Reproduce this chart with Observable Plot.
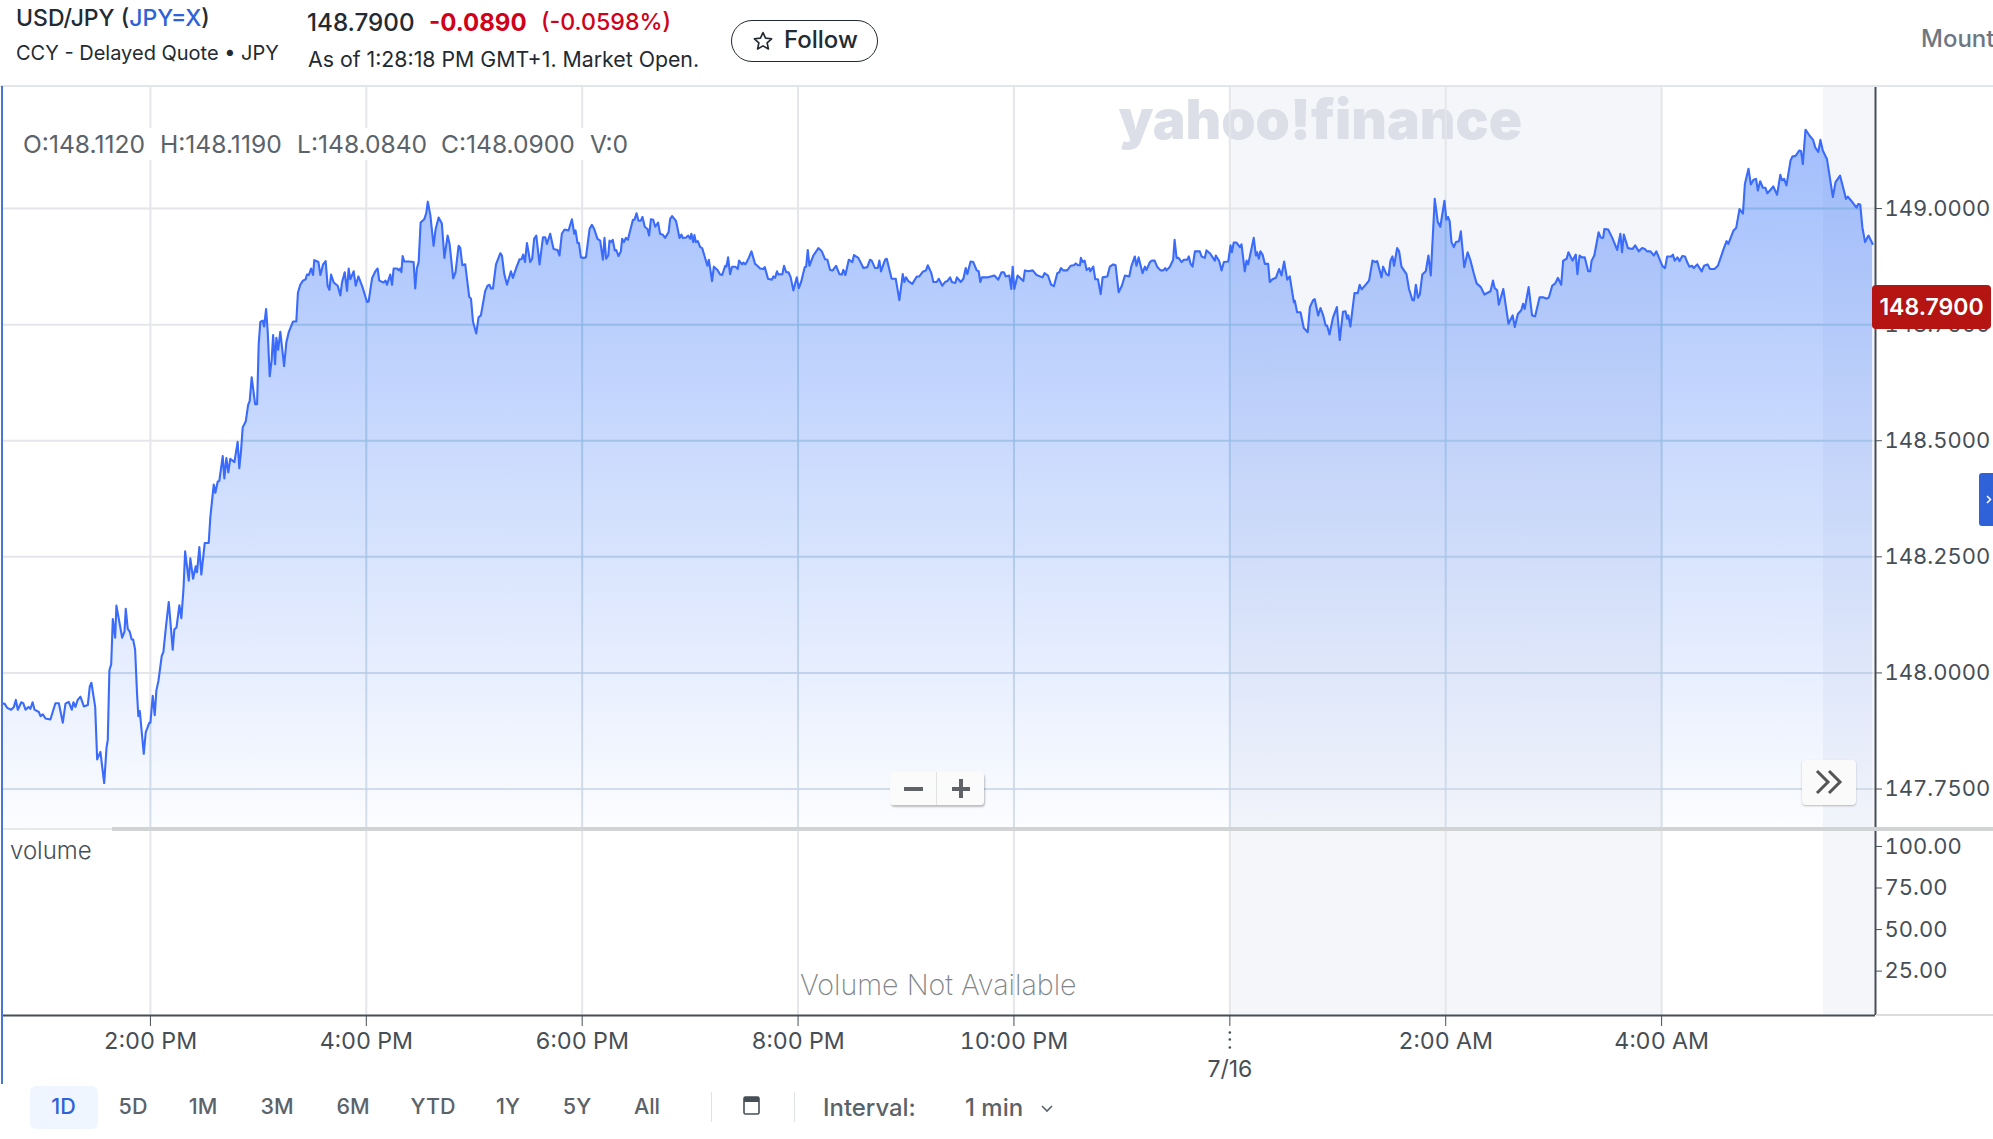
<!DOCTYPE html>
<html lang="en">
<head>
<meta charset="utf-8">
<title>USD/JPY</title>
<script src="https://cdn.jsdelivr.net/npm/d3@7"></script>
<script src="https://cdn.jsdelivr.net/npm/@observablehq/plot@0.6"></script>
<style>
html,body{margin:0;padding:0;background:#fff}
#page{position:relative;width:1993px;height:1139px;overflow:hidden;font-family:Inter,sans-serif;color:#232a31;background:#fff}
#page>*{position:absolute}
.range{position:absolute;top:1096px;font-size:21.5px;font-weight:500;color:#5b636a;transform:translateX(-50%);white-space:nowrap;line-height:1}
</style>
</head>
<body>
<div id="page"></div>
<script>
// Minutes after 12:00 PM on 7/15
const minutes = [37.6,38.9,40.4,42.6,44.1,45.2,46.3,48.2,49.3,50.6,52.2,53.3,54.5,55.6,58.0,58.9,60.2,61.7,64.4,67.2,69.1,71.3,72.8,74.6,76.3,77.2,78.3,79.6,81.1,83.0,85.2,86.3,87.2,89.3,90.4,92.2,94.3,95.6,96.3,97.2,98.2,99.1,100.4,101.1,104.3,105.6,106.3,107.4,108.5,109.6,110.4,111.5,112.6,113.3,114.1,116.3,117.4,119.4,120.0,121.3,122.4,123.3,124.5,126.3,127.2,128.7,130.2,132.4,133.3,134.5,136.1,137.2,138.4,139.3,141.3,142.2,143.7,145.2,145.9,147.2,148.3,150.2,152.4,153.3,155.2,156.1,157.4,158.3,160.2,161.1,162.2,163.3,164.4,166.7,168.5,169.4,170.4,171.3,173.0,174.3,175.2,176.3,178.2,179.3,180.2,181.1,182.4,183.2,184.3,185.2,186.3,187.4,188.2,189.3,190.0,191.0,192.2,194.3,195.6,196.9,199.3,201.1,202.0,203.3,204.8,206.3,207.0,208.1,209.3,210.4,211.1,213.4,214.5,216.0,217.4,218.5,219.5,220.4,221.9,224.1,225.6,226.5,228.0,229.3,230.2,231.1,233.0,234.1,235.6,237.8,240.4,241.3,243.2,245.0,246.3,247.2,249.6,250.7,251.5,253.3,254.3,255.2,257.1,258.0,258.9,259.5,260.2,261.1,263.5,266.3,267.2,268.1,269.1,270.2,272.2,273.3,274.2,275.6,277.4,278.5,280.2,282.0,283.4,285.2,286.3,288.3,289.6,291.3,292.2,293.4,295.0,297.2,298.2,299.3,301.1,302.4,303.7,306.1,307.4,308.5,309.3,310.4,312.1,314.5,
315.4,316.7,318.2,320.4,321.5,323.3,325.2,326.3,327.2,328.2,329.3,331.1,332.2,333.3,334.5,336.3,338.2,339.5,340.4,342.2,344.1,346.3,347.4,348.7,350.2,352.4,354.3,355.6,356.3,357.4,358.2,359.3,360.8,362.1,364.1,365.4,366.7,368.5,370.0,371.5,372.4,373.3,374.5,375.2,376.1,377.0,378.1,378.9,380.2,381.5,382.2,383.2,384.3,385.4,388.2,389.1,390.2,391.3,392.6,393.5,394.8,396.3,397.2,398.2,399.5,400.6,402.2,403.3,404.8,406.1,408.0,408.9,410.0,412.2,414.1,415.2,415.9,417.8,418.9,420.0,420.7,421.7,422.4,423.2,424.3,425.6,426.7,429.6,430.4,432.2,433.2,435.2,436.7,437.8,439.5,440.2,441.1,442.2,443.3,445.2,446.5,447.2,448.9,449.6,450.6,451.5,452.6,454.1,456.1,457.4,458.9,460.7,461.5,463.3,465.4,466.3,467.2,468.3,469.1,471.3,472.2,473.4,474.7,475.9,477.4,479.3,480.4,481.7,483.7,484.5,485.4,486.3,488.5,491.3,493.2,495.0,496.3,497.8,499.3,501.1,503.0,504.3,505.2,506.3,508.2,510.2,511.1,513.5,516.3,518.5,520.0,520.9,522.8,524.3,525.2,526.1,528.4,529.3,532.0,534.3,536.3,538.2,539.1,540.0,541.3,543.5,546.0,547.4,549.3,551.1,552.1,554.1,555.2,557.1,558.2,560.2,561.7,563.0,564.5,
565.5,567.4,568.3,570.4,571.9,573.2,574.1,575.9,577.4,579.3,580.4,581.3,582.2,585.7,589.1,591.3,593.1,594.4,595.5,597.4,598.5,599.3,600.2,602.0,605.2,606.1,608.0,610.4,612.6,615.9,617.0,618.9,620.7,622.2,624.1,625.2,626.1,627.4,629.6,631.5,633.3,634.4,635.6,636.7,637.2,638.2,639.3,640.4,641.9,642.4,644.1,645.2,646.7,648.2,649.3,651.9,653.3,655.2,656.5,658.2,660.0,661.7,664.1,665.2,667.2,668.1,669.3,671.5,672.8,673.7,675.6,676.7,678.2,679.6,681.5,683.0,684.1,684.8,686.7,688.5,689.3,690.4,691.5,693.2,694.5,696.3,697.2,698.2,699.3,700.6,703.3,704.3,706.1,707.0,708.9,711.7,712.2,714.1,715.4,716.7,719.1,720.4,721.1,722.2,723.7,725.6,726.5,728.3,729.3,730.2,733.3,734.5,735.2,736.1,737.0,738.2,739.5,741.3,742.2,743.7,745.6,747.4,748.7,750.2,751.9,753.3,755.6,756.1,757.4,759.3,761.1,763.3,764.5,766.3,767.2,769.1,770.4,771.9,773.3,774.1,775.4,777.4,779.5,781.1,782.9,784.3,785.2,785.9,787.0,789.3,791.1,792.2,793.3,795.9,797.4,799.3,800.8,801.9,804.3,805.2,807.0,808.3,809.3,810.4,811.3,813.0,814.1,815.4,818.2,819.6,821.5,822.4,823.4,824.6,825.6,827.0,828.9,830.4,831.7,833.9,835.6,837.0,839.3,840.4,841.3,842.2,
843.2,844.5,845.7,847.4,848.4,850.3,852.2,853.8,855.7,857.2,859.5,861.5,864.9,866.3,867.2,868.6,869.5,872.0,874.9,877.2,878.4,880.1,882.0,883.0,883.9,886.1,888.0,889.7,892.2,894.2,896.1,897.4,899.2,900.9,902.4,904.2,905.3,907.2,908.2,910.5,912.3,913.2,914.4,915.7,917.3,919.2,920.3,921.1,922.6,925.0,926.1,927.5,928.2,930.3,932.6,935.3,937.1,938.0,939.0,941.3,943.8,945.3,947.3,949.2,950.7,951.9,953.8,955.7,957.1,958.8,960.5,961.9,963.1,965.4,966.3,967.3,968.8,970.0,971.5,973.0,974.2,975.4,976.9,977.9,979.8,982.3,983.6,985.6,986.9,989.4,991.3,994.2,996.1,997.1,1000.0,1001.5,1003.3,1005.2,1006.3,1008.3,1009.6,1011.1,1012.5,1013.5,1014.8,1016.3,1017.7,1018.8,1020.2,1022.1,1024.2,1026.0,1026.9,1028.1,1029.4,1031.7,1032.7,1034.6,1036.5,1037.5,1038.5,1040.0,1042.3,1044.2,1045.4,1047.1,1048.3,1049.6,1051.9,1055.2,1056.7,1059.2,1062.5,1063.5,1065.4,1068.3,1069.3,1070.4,1071.6,1073.1,1075.0,1077.3];
const closes = [147.936,147.936,147.927,147.923,147.929,147.944,147.923,147.939,147.937,147.923,147.929,147.925,147.939,147.923,147.918,147.909,147.913,147.904,147.902,147.937,147.937,147.895,147.936,147.940,147.923,147.939,147.929,147.944,147.951,147.930,147.933,147.973,147.981,147.929,147.816,147.832,147.765,147.841,147.858,148.008,148.021,148.118,148.078,148.147,148.078,148.091,148.140,148.097,148.091,148.074,148.074,148.052,147.955,147.909,147.920,147.828,147.874,147.895,147.895,147.953,147.911,147.964,147.986,148.039,148.047,148.104,148.155,148.052,148.096,148.100,148.148,148.120,148.184,148.264,148.201,148.249,148.205,148.232,148.219,148.273,148.214,148.282,148.282,148.337,148.408,148.390,148.414,148.416,148.469,148.421,148.465,148.434,148.463,148.456,148.500,148.443,148.482,148.531,148.544,148.579,148.588,148.639,148.581,148.581,148.711,148.758,148.761,148.748,148.786,148.737,148.641,148.676,148.730,148.667,148.724,148.698,148.737,148.663,148.715,148.736,148.759,148.759,148.821,148.838,148.847,148.850,148.860,148.859,148.873,148.859,148.891,148.887,148.859,148.882,148.889,148.836,148.827,148.860,148.843,148.836,148.815,148.843,148.865,148.825,148.873,148.850,148.867,148.836,148.856,148.834,148.801,148.802,148.852,148.867,148.873,148.847,148.843,148.847,148.838,148.860,148.838,148.873,148.873,148.869,148.873,148.865,148.900,148.888,148.888,148.887,148.830,148.873,148.887,148.972,148.979,148.992,149.017,148.988,148.922,148.957,148.983,148.970,148.896,148.944,148.926,148.852,148.865,148.922,148.918,148.880,148.882,148.812,148.808,148.759,148.733,148.768,148.772,148.825,148.836,148.838,148.830,148.830,148.882,148.906,
148.901,148.861,148.838,148.867,148.853,148.874,148.893,148.893,148.903,148.887,148.928,148.887,148.894,148.937,148.944,148.882,148.940,148.940,148.926,148.948,148.915,148.913,148.901,148.948,148.957,148.955,148.979,148.948,148.955,148.928,148.928,148.897,148.896,148.897,148.958,148.967,148.958,148.937,148.933,148.892,148.939,148.894,148.901,148.933,148.930,148.935,148.912,148.913,148.900,148.910,148.937,148.930,148.939,148.935,148.978,148.978,148.992,148.976,148.976,148.984,148.963,148.958,148.944,148.979,148.978,148.963,148.972,148.948,148.946,148.939,148.951,148.980,148.986,148.975,148.939,148.946,148.939,148.940,148.944,148.937,148.948,148.930,148.945,148.930,148.932,148.919,148.917,148.879,148.892,148.846,148.877,148.870,148.860,148.859,148.879,148.877,148.897,148.861,148.877,148.877,148.872,148.890,148.882,148.886,148.882,148.887,148.896,148.910,148.883,148.879,148.873,148.872,148.876,148.851,148.849,148.856,148.853,148.867,148.860,148.861,148.879,148.865,148.865,148.854,148.826,148.854,148.831,148.844,148.876,148.877,148.913,148.879,148.901,148.917,148.910,148.893,148.892,148.870,148.869,148.879,148.861,148.860,148.870,148.859,148.892,148.887,148.902,148.896,148.874,148.876,148.892,148.890,148.874,148.874,148.890,148.867,148.892,148.894,148.851,148.851,148.805,148.861,148.844,148.854,148.846,148.840,148.856,148.856,148.866,148.869,148.880,148.863,148.844,148.844,148.851,148.836,148.844,148.846,148.854,
148.844,148.842,148.854,148.844,148.851,148.874,148.861,148.888,148.887,148.869,148.867,148.844,148.854,148.854,148.858,148.849,148.865,148.865,148.856,148.858,148.829,148.877,148.829,148.858,148.846,148.869,148.867,148.869,148.859,148.854,148.863,148.858,148.838,148.835,148.863,148.865,148.874,148.869,148.869,148.879,148.880,148.884,148.880,148.880,148.896,148.887,148.890,148.870,148.874,148.867,148.877,148.850,148.850,148.818,148.854,148.856,148.877,148.882,148.880,148.822,148.836,148.858,148.856,148.877,148.899,148.879,148.897,148.863,148.877,148.870,148.887,148.890,148.890,148.877,148.869,148.869,148.874,148.869,148.877,148.892,148.935,148.896,148.896,148.887,148.892,148.892,148.899,148.883,148.877,148.910,148.910,148.899,148.896,148.912,148.906,148.890,148.901,148.889,148.869,148.887,148.888,148.923,148.908,148.929,148.929,148.919,148.925,148.867,148.890,148.882,148.939,148.901,148.908,148.894,148.910,148.903,148.883,148.883,148.844,148.850,148.853,148.872,148.858,148.888,148.849,148.856,148.800,148.804,148.779,148.779,148.745,148.736,148.790,148.805,148.807,148.772,148.788,148.772,148.750,148.750,148.731,148.768,148.790,148.719,148.780,148.781,148.765,148.772,148.748,148.820,148.820,148.838,148.828,148.840,148.847,148.890,148.887,148.889,148.854,148.877,148.861,148.858,148.890,148.899,148.879,148.917,148.910,148.877,148.861,148.829,148.805,148.805,148.838,148.810,148.817,148.860,148.867,148.901,148.858,149.023,148.973,148.963,149.019,148.978,148.984,148.975,
148.930,148.919,148.930,148.932,148.953,148.876,148.908,148.890,148.861,148.841,148.833,148.817,148.824,148.847,148.831,148.826,148.795,148.829,148.754,148.772,148.747,148.775,148.783,148.797,148.786,148.833,148.772,148.770,148.811,148.811,148.808,148.811,148.836,148.841,148.853,148.838,148.890,148.894,148.908,148.890,148.903,148.861,148.901,148.897,148.897,148.867,148.867,148.890,148.901,148.951,148.940,148.939,148.958,148.957,148.939,148.913,148.948,148.908,148.946,148.917,148.915,148.923,148.910,148.917,148.915,148.910,148.910,148.901,148.910,148.894,148.878,148.874,148.899,148.899,148.903,148.890,148.897,148.889,148.900,148.899,148.887,148.877,148.879,148.874,148.882,148.867,148.879,148.882,148.872,148.872,148.879,148.912,148.932,148.926,148.955,148.961,149.001,148.991,149.055,149.088,149.054,149.064,149.066,149.041,149.061,149.047,149.047,149.035,149.041,149.050,149.032,149.075,149.063,149.066,149.052,149.106,149.114,149.116,149.127,149.126,149.098,149.172,149.159,149.150,149.134,149.124,149.150,149.127,149.109,149.027,149.059,149.073,149.023,149.028,149.019,149.004,149.012,149.011,148.962,148.930,148.944,148.926];

const priceTicks = [147.75,148,148.25,148.5,148.75,149];
const volumeTicks = [25,50,75,100];
const hourTicks = [120,240,360,480,600,720,840,960]; // minutes after 12:00 PM
const shadedSessions = [[720,960],[1050,1079]];
const minuteDomain = [37.78,1078.9];
const priceDomain = [147.665,149.265];
const volumeDomain = [-1.7,110.2];
const lastPrice = 148.79;

const T0 = Date.UTC(2025,6,15,12,0);
const toTime = m => new Date(T0 + m*60000);
const rows = minutes.map((m,i)=>({t:toTime(m),p:closes[i]}));
const tickTimes = hourTicks.map(toTime);
const midnight = toTime(720);
const sessions = shadedSessions.map(([a,b])=>({a:toTime(a),b:toTime(b)}));
const xDomain = minuteDomain.map(toTime);
const fmtTime = d3.utcFormat("%-I:%M %p");

const GRID="#e4e6ea", AXIS="#464e56", W=1993;
const plotStyle={fontFamily:"Inter,sans-serif",fontSize:"22px",color:AXIS,background:"transparent",overflow:"visible"};
const NS="http://www.w3.org/2000/svg";

const defsMark = () => {
  const defs=d3.create("svg:defs");
  const g=defs.append("linearGradient").attr("id","priceFill").attr("x1",0).attr("x2",0).attr("y1",0).attr("y2",1);
  g.append("stop").attr("offset","0%").attr("stop-color","#2f6ef8").attr("stop-opacity",0.45);
  g.append("stop").attr("offset","100%").attr("stop-color","#2f6ef8").attr("stop-opacity",0.015);
  const h=defs.append("linearGradient").attr("id","gridTint").attr("gradientUnits","userSpaceOnUse").attr("x1",0).attr("x2",0).attr("y1",100).attr("y2",743);
  h.append("stop").attr("offset","0%").attr("stop-color","#5fb0e0").attr("stop-opacity",0.3);
  h.append("stop").attr("offset","100%").attr("stop-color","#5fb0e0").attr("stop-opacity",0.08);
  defs.append("clipPath").attr("id","areaClip");
  return defs.node();
};
// copy the drawn area into a clip path so the tinted grid only shows under the price
let pendingClip=null;
const areaIntoClip = (index,scales,values,dims,ctx,next) => {
  const g=next(index,scales,values,dims,ctx);
  const c=document.createElementNS(NS,"path");
  c.setAttribute("d",g.querySelector("path").getAttribute("d"));
  pendingClip=c;
  return g;
};
const clipped = (index,scales,values,dims,ctx,next) => {
  const g=next(index,scales,values,dims,ctx);
  g.setAttribute("clip-path","url(#areaClip)");
  return g;
};

const main = Plot.plot({
  width:W,height:743,marginTop:0,marginBottom:0,marginLeft:2,marginRight:118,style:plotStyle,
  x:{type:"utc",domain:xDomain,axis:null},
  y:{domain:priceDomain,axis:null},
  marks:[
    defsMark,
    Plot.rect(sessions,{x1:"a",x2:"b",fill:"#f5f6fa"}),
    Plot.text(["yahoo!finance"],{frameAnchor:"top-left",dx:1116,dy:35,textAnchor:"start",fontSize:55,fontWeight:900,letterSpacing:"-4.5px",fill:"#dcdfe7",lineAnchor:"middle"}),
    Plot.ruleX(tickTimes,{stroke:GRID,strokeWidth:2}),
    Plot.ruleY(priceTicks,{stroke:GRID,strokeWidth:2,dy:-1}),
    Plot.areaY(rows,{x:"t",y1:priceDomain[0],y2:"p",fill:"url(#priceFill)",render:areaIntoClip}),
    Plot.ruleX(tickTimes,{stroke:"url(#gridTint)",strokeWidth:2,render:clipped}),
    Plot.ruleY(priceTicks,{stroke:"url(#gridTint)",strokeWidth:2,dy:-1,render:clipped}),
    Plot.line(rows,{x:"t",y:"p",stroke:"#3a6bfa",strokeWidth:2.1}),
    Plot.ruleX([xDomain[1]],{stroke:AXIS,strokeWidth:2}),
    Plot.axisY({anchor:"right",ticks:priceTicks,tickFormat:".4f",tickSize:6,tickPadding:3,label:null,fontSize:22,dy:-1})
  ]
});
// the clip path is attached once the svg exists
if(pendingClip) main.querySelector("#areaClip").appendChild(pendingClip);

const vol = Plot.plot({
  width:W,height:255,marginTop:0,marginBottom:69,marginLeft:2,marginRight:118,style:plotStyle,
  x:{type:"utc",domain:xDomain,axis:null},
  y:{domain:volumeDomain,axis:null},
  marks:[
    Plot.rect(sessions,{x1:"a",x2:"b",fill:"#f5f6fa"}),
    Plot.ruleX(tickTimes,{stroke:GRID,strokeWidth:2}),
    Plot.ruleX([xDomain[1]],{stroke:AXIS,strokeWidth:2}),
    Plot.ruleY([volumeDomain[0]],{stroke:AXIS,strokeWidth:2}),
    Plot.axisY({anchor:"right",ticks:volumeTicks,tickFormat:".2f",tickSize:6,tickPadding:3,label:null,fontSize:22}),
    Plot.axisX({anchor:"bottom",ticks:tickTimes,tickFormat:d=>+d===+midnight?"":fmtTime(d),tickSize:11,tickPadding:6,label:null,fontSize:23.2}),
    Plot.dot([midnight],{x:d=>d,frameAnchor:"bottom",dy:17,r:1.3,fill:AXIS}),
    Plot.dot([midnight],{x:d=>d,frameAnchor:"bottom",dy:24,r:1.3,fill:AXIS}),
    Plot.dot([midnight],{x:d=>d,frameAnchor:"bottom",dy:32,r:1.3,fill:AXIS}),
    Plot.text(["7/16"],{x:()=>midnight,frameAnchor:"bottom",dy:61,fontSize:23,fill:AXIS})
  ]
});

const page=document.getElementById("page");
const put=(html,css)=>{const e=document.createElement("div");e.innerHTML=html;e.style.cssText=css;page.appendChild(e);return e;};

// charts
const mainWrap=put("", "left:0;top:86px;width:1993px;height:743px");mainWrap.appendChild(main);
const volWrap=put("", "left:0;top:829px;width:1993px;height:255px");volWrap.appendChild(vol);

// frame lines
put("", "left:0;top:85px;width:1993px;height:2px;background:#e2e5e9");
put("", "left:1px;top:86px;width:2px;height:998px;background:#4a74d6");
put("", "left:112px;top:827px;width:1881px;height:3.5px;background:#d2d3d4");
put("", "left:3px;top:828px;width:109px;height:2px;background:#e8e9ea");
put("", "left:1876px;top:1014px;width:117px;height:2px;background:#dcdcdc");

// header
put('USD/JPY (<span style="color:#2e62d6">JPY=X</span>)', "left:16px;top:6px;font-size:23px;font-weight:500;color:#232a31;white-space:nowrap;line-height:1.1");
put('CCY - Delayed Quote • JPY', "left:16px;top:42px;font-size:20px;color:#232a31;white-space:nowrap;line-height:1.1");
put('148.7900', "left:307px;top:10px;font-size:24.2px;font-weight:500;color:#232a31;white-space:nowrap;line-height:1.1");
put('-0.0890', "left:429px;top:10px;font-size:24px;font-weight:700;color:#d0021b;white-space:nowrap;line-height:1.1");
put('(-0.0598%)', "left:541px;top:10px;font-size:23.2px;font-weight:500;color:#d0021b;white-space:nowrap;line-height:1.1");
put('As of 1:28:18 PM GMT+1. Market Open.', "left:308px;top:48px;font-size:21.3px;color:#232a31;white-space:nowrap;line-height:1.1");
put('<svg width="22" height="22" viewBox="0 0 24 24" style="position:absolute;left:20px;top:9px"><path d="M12 2.8l2.8 6.1 6.6.7-4.9 4.5 1.4 6.6-5.9-3.4-5.9 3.4 1.4-6.6-4.9-4.5 6.6-.7z" fill="none" stroke="#232a31" stroke-width="1.8" stroke-linejoin="round"/></svg><span style="position:absolute;left:52px;top:6px;font-size:24px;font-weight:500;color:#232a31;line-height:1.1">Follow</span>', "left:731px;top:20px;width:145px;height:40px;border:1.5px solid #232a31;border-radius:22px;box-sizing:content-box");
put('Mount', "left:1921px;top:26px;font-size:24px;font-weight:500;color:#6e7780;white-space:nowrap;line-height:1.1");

// O/H/L/C strip
put("", "left:20px;top:128px;width:636px;height:32px;background:#fff");
const oh=[["O:148.1120",23],["H:148.1190",160],["L:148.0840",297],["C:148.0900",441],["V:0",590]];
oh.forEach(([s,x])=>put(s,`left:${x}px;top:131px;font-size:24.6px;font-weight:400;color:#5b636a;white-space:nowrap;line-height:1.1`));

// last price badge (placed by the y scale)
const by=86+main.scale("y").apply(lastPrice);
put(lastPrice.toFixed(4),`left:1872px;top:${by-22}px;width:119px;height:44px;background:#b41412;border-radius:4px;color:#fff;font-size:23px;font-weight:600;text-align:center;line-height:44px`);

// zoom control
put('<div style="position:absolute;left:14px;top:15px;width:19px;height:4px;background:#5f6368"></div><div style="position:absolute;left:46px;top:0;width:1px;height:33px;background:#e3e3e3"></div><div style="position:absolute;left:62px;top:15px;width:18px;height:4px;background:#5f6368"></div><div style="position:absolute;left:69px;top:7px;width:4px;height:19px;background:#5f6368"></div>', "left:890px;top:772px;width:94px;height:33px;background:rgba(251,251,251,.95);border-radius:4px;box-shadow:1px 2px 2px rgba(0,0,0,.25)");
put('<svg width="54" height="45"><path d="M15 11l11 11-11 11M27 11l11 11-11 11" fill="none" stroke="#555" stroke-width="3"/></svg>', "left:1802px;top:760px;width:54px;height:45px;background:#fafafa;border-radius:4px;box-shadow:0 1px 2px rgba(0,0,0,.25)");

// volume labels
put('volume', "left:10px;top:838px;font-size:24px;font-weight:300;color:#464e56;white-space:nowrap;line-height:1.1");
put('Volume Not Available', "left:800px;top:969px;font-size:28.6px;font-weight:200;color:#808589;white-space:nowrap;line-height:1.1");

// side tab
put('<svg width="14" height="53"><path d="M8 23l3.5 3.5L8 30" fill="none" stroke="#fff" stroke-width="1.5"/></svg>', "left:1979px;top:473px;width:14px;height:53px;background:#2f62d8;border-radius:3px 0 0 3px");

// toolbar
put("", "left:30px;top:1086px;width:68px;height:43px;background:#f0f6ff;border-radius:6px");
const ranges=[["1D",63.6],["5D",133],["1M",203],["3M",277],["6M",353],["YTD",433],["1Y",508],["5Y",577],["All",647]];
ranges.forEach(([s,x],i)=>{const e=document.createElement("div");e.className="range";e.textContent=s;e.style.left=x+"px";if(i===0)e.style.color="#2e62d6";page.appendChild(e);});
put("", "left:711px;top:1092px;width:1px;height:30px;background:#dfe2e6");
put("", "left:794px;top:1092px;width:1px;height:30px;background:#dfe2e6");
put('<svg width="20" height="22"><rect x="2" y="3" width="15" height="17" rx="1.5" fill="none" stroke="#464e56" stroke-width="1.6"/><rect x="2" y="3" width="15" height="5" fill="#464e56"/></svg>', "left:742px;top:1094px");
put('Interval:', "left:823px;top:1096px;font-size:23.9px;font-weight:500;color:#5b636a;white-space:nowrap;line-height:1");
put('1 min', "left:965px;top:1096px;font-size:24px;font-weight:500;color:#5b636a;white-space:nowrap;line-height:1");
put('<svg width="14" height="10"><path d="M2 2l5 5 5-5" fill="none" stroke="#5b636a" stroke-width="1.6"/></svg>', "left:1040px;top:1098px");
</script>
</body>
</html>
